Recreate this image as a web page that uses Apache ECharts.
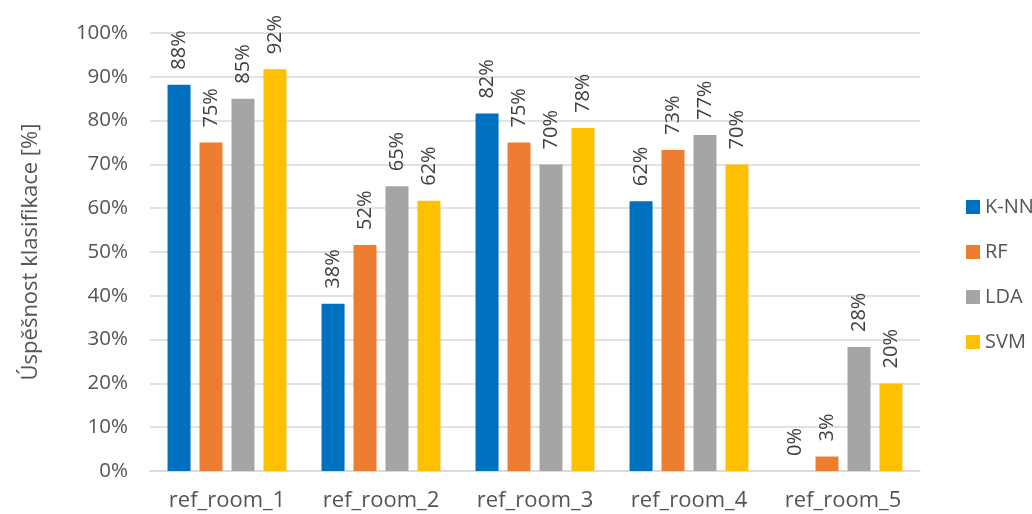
<!DOCTYPE html>
<html>
<head>
<meta charset="utf-8">
<script src="https://cdn.jsdelivr.net/npm/echarts@6/dist/echarts.min.js"></script>
<style>
  html, body { margin: 0; padding: 0; background: #fff; }
  #chart { width: 1032px; height: 514px; }
</style>
</head>
<body>
<div id="chart"></div>
<script>
// Rooms on the x axis
const categories = ['ref_room_1', 'ref_room_2', 'ref_room_3', 'ref_room_4', 'ref_room_5'];

// Classification success per method [%]
const knn = [88.2, 38.2, 81.6, 61.6, 0];
const rf  = [75.0, 51.6, 75.0, 73.3, 3.3];
const lda = [85.0, 65.0, 70.0, 76.7, 28.3];
const svm = [91.7, 61.7, 78.3, 70.0, 20.0];

const seriesNames = ['K-NN', 'RF', 'LDA', 'SVM'];
const seriesValues = [knn, rf, lda, svm];
const colors = ['#0070C0', '#ED7D31', '#A5A5A5', '#FFC000'];

const FONT = '"Open Sans", sans-serif';
const TEXT = '#555555';

const chart = echarts.init(document.getElementById('chart'), null, { renderer: 'canvas' });

chart.setOption({
  animation: false,
  color: colors,
  textStyle: { fontFamily: FONT },
  grid: { left: 150, right: 112, top: 33, bottom: 43, containLabel: false },
  legend: {
    orient: 'vertical',
    left: 961,
    top: 192,
    icon: 'rect',
    itemWidth: 14,
    itemHeight: 14,
    itemGap: 25,
    textStyle: { fontFamily: FONT, fontSize: 20, color: TEXT, lineHeight: 20 },
    data: seriesNames
  },
  xAxis: {
    type: 'category',
    data: categories,
    axisLine: { lineStyle: { color: '#d9d9d9', width: 1.5 } },
    axisTick: { show: false },
    axisLabel: { fontFamily: FONT, fontSize: 22, color: TEXT, margin: 19 }
  },
  yAxis: {
    type: 'value',
    min: 0,
    max: 100,
    interval: 10,
    name: 'Úspěšnost klasifikace [%]',
    nameLocation: 'middle',
    nameGap: 108,
    nameRotate: 90,
    nameTextStyle: { fontFamily: FONT, fontSize: 22, color: TEXT },
    axisLine: { show: false },
    axisTick: { show: false },
    axisLabel: { fontFamily: FONT, fontSize: 20.5, color: TEXT, margin: 22, formatter: '{value}%' },
    splitLine: { lineStyle: { color: '#d9d9d9', width: 1.5 } }
  },
  series: seriesNames.map((name, i) => ({
    name: name,
    type: 'bar',
    data: seriesValues[i],
    barWidth: 23,
    barGap: '39%',
    label: {
      show: true,
      position: 'top',
      rotate: 90,
      align: 'left',
      verticalAlign: 'middle',
      distance: 15,
      fontFamily: FONT,
      fontSize: 20,
      color: '#404040',
      formatter: p => Math.round(p.value) + '%'
    }
  }))
});
</script>
</body>
</html>
